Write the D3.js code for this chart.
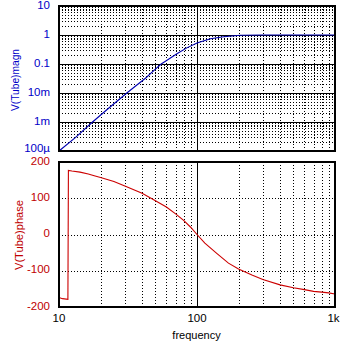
<!DOCTYPE html>
<html>
<head>
<meta charset="utf-8">
<script src="https://cdn.jsdelivr.net/npm/d3@7"></script>
<style>
  html, body { margin: 0; padding: 0; background: #ffffff; }
  svg { display: block; }
  text { font-family: "Liberation Sans", Arial, sans-serif; }
</style>
</head>
<body>
<svg id="chart" width="349" height="344"></svg>
<script>
// Frequency response of the tube stage: magnitude and phase vs frequency (Hz)
const magFreq  = [10, 13.2, 17.5, 23.1, 31, 42.5, 48.8, 55, 57.6, 72, 84.4, 100, 125, 156, 206, 300, 1000];
const magValue = [1.0e-4, 2.95e-4, 1.0e-3, 3.1e-3, 1.0e-2, 3.3e-2, 6.0e-2, 1.0e-1, 1.15e-1,
                  2.3e-1, 3.6e-1, 5.3e-1, 7.4e-1, 8.7e-1, 9.8e-1, 1.0, 1.0];

const phaseFreq  = [10, 10.6, 11.6, 11.7, 12.4, 14.2, 16.3, 18, 20, 25, 30, 40, 50, 60, 70, 80, 90,
                    100, 114, 139, 169, 200, 250, 300, 400, 500, 600, 700, 800, 900, 1000];
const phaseValue = [-174, -177, -179, 177, 175, 172, 167, 162, 157, 146, 134, 114, 93, 76, 57, 39, 20,
                    0, -24, -52, -79, -95, -112, -124, -139, -147, -152, -157, -159, -161, -164];

const xTickValues = [10, 100, 1000];
const xTickLabels = ["10", "100", "1k"];
const magTickValues = [1e-4, 1e-3, 1e-2, 1e-1, 1, 10];
const magTickLabels = ["100\u00b5", "1m", "10m", "0.1", "1", "10"];
const phaseTickValues = [-200, -100, 0, 100, 200];
const phaseTickLabels = ["-200", "-100", "0", "100", "200"];

const BLUE_TEXT = "#0000c8";
const BLUE_LINE = "#0000b0";
const RED_TEXT = "#c00000";
const RED_LINE = "#cc0000";

const svg = d3.select("#chart");

const x = d3.scaleLog().domain([10, 1000]).range([59, 335]);
const yMag = d3.scaleLog().domain([1e-4, 10]).range([151, 6]);
const yPhase = d3.scaleLinear().domain([-200, 200]).range([307, 162]);

const px = v => Math.round(v) + 0.5;

// minor frequency grid: 20..90, 200..900
const minorFreq = [];
[10, 100].forEach(d => { for (let k = 2; k <= 9; k++) minorFreq.push(d * k); });

function drawPanel(y, top, bottom, hMajor, hMinor) {
  const g = svg.append("g");
  // dotted minor verticals
  g.selectAll(".vmin").data(minorFreq).join("line")
    .attr("x1", d => px(x(d))).attr("x2", d => px(x(d)))
    .attr("y1", top).attr("y2", bottom)
    .attr("stroke", "#000").attr("stroke-width", 1)
    .attr("stroke-dasharray", "1,2").attr("shape-rendering", "crispEdges");
  // dotted horizontals
  g.selectAll(".hmin").data(hMinor).join("line")
    .attr("x1", x.range()[0]).attr("x2", x.range()[1])
    .attr("y1", d => px(y(d))).attr("y2", d => px(y(d)))
    .attr("stroke", "#000").attr("stroke-width", 1)
    .attr("stroke-dasharray", "1,2").attr("shape-rendering", "crispEdges");
  // solid horizontals
  g.selectAll(".hmaj").data(hMajor).join("line")
    .attr("x1", x.range()[0]).attr("x2", x.range()[1])
    .attr("y1", d => px(y(d))).attr("y2", d => px(y(d)))
    .attr("stroke", "#000").attr("stroke-width", 1).attr("shape-rendering", "crispEdges");
  // solid vertical at 100 Hz
  g.append("line")
    .attr("x1", px(x(100))).attr("x2", px(x(100)))
    .attr("y1", top).attr("y2", bottom)
    .attr("stroke", "#000").attr("stroke-width", 1).attr("shape-rendering", "crispEdges");
  return g;
}

// ---- magnitude panel ----
const magMinor = [];
[1e-4, 1e-3, 1e-2, 1e-1, 1].forEach(d => { for (let k = 2; k <= 9; k++) magMinor.push(d * k); });
drawPanel(yMag, 6, 151, [1e-3, 1e-2, 1e-1, 1], magMinor);

const magLine = d3.line().x(d => x(d[0])).y(d => yMag(d[1]));
svg.append("path")
  .datum(magFreq.map((f, i) => [f, magValue[i]]))
  .attr("d", magLine)
  .attr("fill", "none").attr("stroke", BLUE_LINE).attr("stroke-width", 1.1);

svg.append("rect")
  .attr("x", 59).attr("y", 6).attr("width", 276).attr("height", 145)
  .attr("fill", "none").attr("stroke", "#000").attr("stroke-width", 2)
  .attr("shape-rendering", "crispEdges");

svg.selectAll(".magTick").data(magTickValues).join("text")
  .attr("x", 50).attr("y", (d, i) => yMag(d) - (i === 0 ? 3 : 1.5))
  .attr("text-anchor", "end").attr("dominant-baseline", "central")
  .attr("font-size", 11.5).attr("fill", BLUE_TEXT)
  .text((d, i) => magTickLabels[i]);

svg.append("text")
  .attr("transform", "translate(19,80) rotate(-90)")
  .attr("text-anchor", "middle").attr("font-size", 11).attr("fill", BLUE_TEXT)
  .attr("textLength", 62).attr("lengthAdjust", "spacingAndGlyphs")
  .text("V(Tube)magn");

// ---- phase panel ----
drawPanel(yPhase, 162, 307, [], [-100, 0, 100]);

const phaseLine = d3.line().x(d => x(d[0])).y(d => yPhase(d[1]));
svg.append("path")
  .datum(phaseFreq.map((f, i) => [f, phaseValue[i]]))
  .attr("d", phaseLine)
  .attr("fill", "none").attr("stroke", RED_LINE).attr("stroke-width", 1.1);

svg.append("rect")
  .attr("x", 59).attr("y", 162).attr("width", 276).attr("height", 145)
  .attr("fill", "none").attr("stroke", "#000").attr("stroke-width", 2)
  .attr("shape-rendering", "crispEdges");

svg.selectAll(".phTick").data(phaseTickValues).join("text")
  .attr("x", 50).attr("y", d => yPhase(d) - 1.5)
  .attr("text-anchor", "end").attr("dominant-baseline", "central")
  .attr("font-size", 11.5).attr("fill", RED_TEXT)
  .text((d, i) => phaseTickLabels[i]);

svg.append("text")
  .attr("transform", "translate(23,235) rotate(-90)")
  .attr("text-anchor", "middle").attr("font-size", 11).attr("fill", RED_TEXT)
  .attr("textLength", 70).attr("lengthAdjust", "spacingAndGlyphs")
  .text("V(Tube)phase");

// ---- frequency axis ----
svg.selectAll(".xTick").data(xTickValues).join("text")
  .attr("x", (d, i) => x(d) - (i === 2 ? 1.5 : 0)).attr("y", 322)
  .attr("text-anchor", "middle").attr("font-size", 11.5).attr("fill", "#000")
  .text((d, i) => xTickLabels[i]);

svg.append("text")
  .attr("x", 196.5).attr("y", 339)
  .attr("text-anchor", "middle").attr("font-size", 11).attr("fill", "#000")
  .text("frequency");
</script>
</body>
</html>
